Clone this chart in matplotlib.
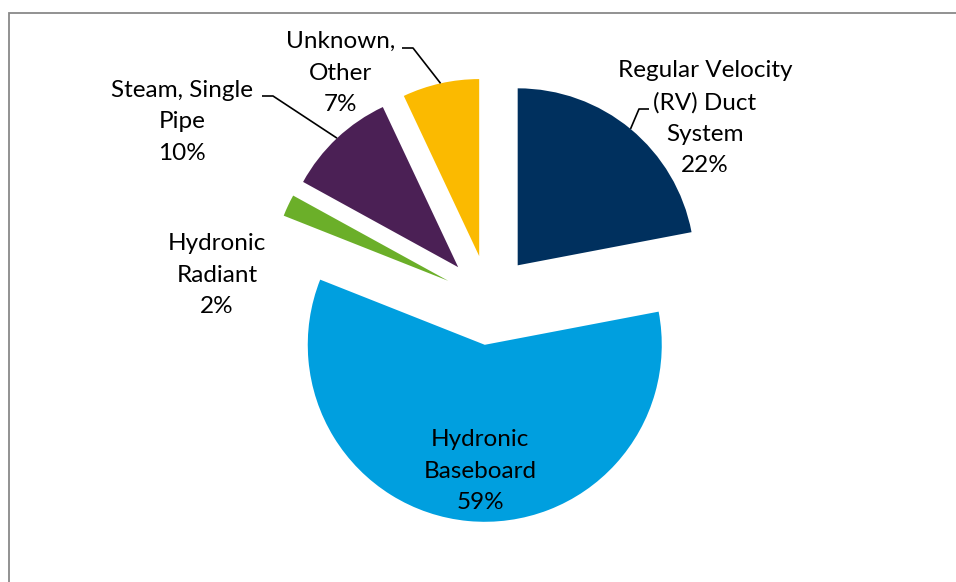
import numpy as np
import matplotlib
matplotlib.use('Agg')
from matplotlib import pyplot as plt
from matplotlib.patches import Rectangle

# slice data, clockwise from 12 o'clock
labels = ['Regular Velocity\n(RV) Duct\nSystem', 'Hydronic\nBaseboard', 'Hydronic\nRadiant',
          'Steam, Single\nPipe', 'Unknown,\nOther']
shares = [22, 59, 2, 10, 7]
colors = ['#00305E', '#009FDF', '#6BAF29', '#4B2055', '#FBBA00']

# label layout (pixel coords, y down) and leader elbows (None = no leader)
label_pos = [(705, 118), (480, 471), (217, 275), (182, 122), (341, 73)]
elbows = [((649, 109), (639, 109)), None, None,
          ((262, 96), (273, 96)), ((402, 48), (413, 48))]

W, H = 956, 582
plt.rcParams['font.family'] = ['Lato', 'DejaVu Sans']

fig = plt.figure(figsize=(W / 100, H / 100), dpi=100)
ax = fig.add_axes([0, 0, 1, 1])

center = (489, H - 300)
radius = 177
explode_px = 45  # pie() offsets by explode in data units here
wedges, _ = ax.pie(shares, colors=colors, startangle=90, counterclock=False,
                   explode=[explode_px] * len(shares),
                   center=center, radius=radius,
                   wedgeprops=dict(linewidth=0), frame=False)

ax.set_xlim(0, W)
ax.set_ylim(0, H)
ax.set_aspect('equal')
ax.axis('off')

for i, w in enumerate(wedges):
    pct = round(shares[i] / sum(shares) * 100)
    lx, ly = label_pos[i]
    ax.text(lx, H - ly, f'{labels[i]}\n{pct}%', ha='center', va='center',
            fontsize=17.5, linespacing=1.62, color='black')
    if elbows[i] is not None:
        mid = np.deg2rad((w.theta1 + w.theta2) / 2)
        cx, cy = w.center
        px = cx + w.r * np.cos(mid)
        py = cy + w.r * np.sin(mid)
        (x0, y0), (x1, y1) = elbows[i]
        ax.plot([x0, x1, px], [H - y0, H - y1, py], color='black', lw=1.2,
                solid_capstyle='butt')

# chart border (only left and top edges fall inside the picture)
fig.patches.append(Rectangle((8.5 / W, -0.1), 1.5, (H - 12.5) / H + 0.1,
                             transform=fig.transFigure, fill=False,
                             edgecolor='#898989', lw=1.3))

fig.savefig('out.png', dpi=100, facecolor='white')
